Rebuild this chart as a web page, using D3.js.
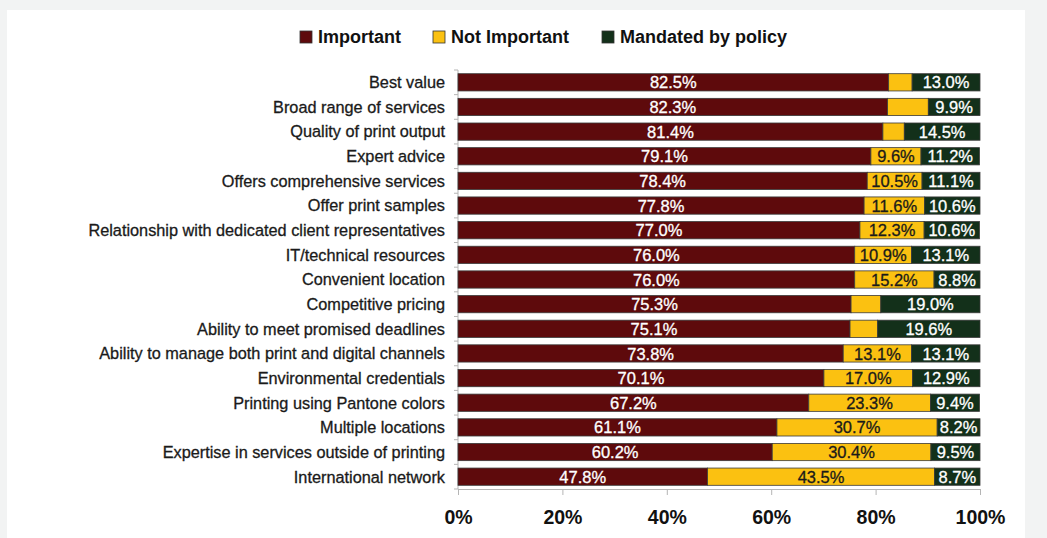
<!DOCTYPE html>
<html><head><meta charset="utf-8">
<script src="https://cdn.jsdelivr.net/npm/d3@7"></script>
<style>body{margin:0;background:#f2f3f3;}svg{display:block;font-family:"Liberation Sans",Arial,sans-serif;}</style>
</head><body><svg id="c" width="1047" height="538"></svg>
<script>
const categories = ["Best value","Broad range of services","Quality of print output","Expert advice","Offers comprehensive services","Offer print samples","Relationship with dedicated client representatives","IT/technical resources","Convenient location","Competitive pricing","Ability to meet promised deadlines","Ability to manage both print and digital channels","Environmental credentials","Printing using Pantone colors","Multiple locations","Expertise in services outside of printing","International network"];
const important    = [82.5,82.3,81.4,79.1,78.4,77.8,77.0,76.0,76.0,75.3,75.1,73.8,70.1,67.2,61.1,60.2,47.8];
const notImportant = [4.5,7.8,4.1,9.6,10.5,11.6,12.3,10.9,15.2,5.7,5.3,13.1,17.0,23.3,30.7,30.4,43.5];
const mandated     = [13.0,9.9,14.5,11.2,11.1,10.6,10.6,13.1,8.8,19.0,19.6,13.1,12.9,9.4,8.2,9.5,8.7];
const seriesNames = ["Important","Not Important","Mandated by policy"];
const xTicks = [0,20,40,60,80,100];

const colors = ["#5e0a0c","#fbc111","#13301a"];
const labelColors = ["#ffffff","#1a1a1a","#ffffff"];

const svg = d3.select("#c");
svg.append("rect").attr("x",7).attr("y",10).attr("width",1018).attr("height",528).attr("fill","#ffffff");

const x = d3.scaleLinear().domain([0,100]).range([458,980]);
const y = d3.scaleBand().domain(categories).range([70,489]).paddingInner(0.3).paddingOuter(0.15);

const rows = categories.map((c,i)=>({cat:c, vals:[important[i],notImportant[i],mandated[i]]}));
const segs = [];
rows.forEach(r=>{let acc=0; r.vals.forEach((v,k)=>{segs.push({cat:r.cat,k,v,x0:acc,x1:Math.min(100,acc+v)}); acc+=v;});});

const yAxisG = svg.append("g");
yAxisG.append("line").attr("x1",x(0)).attr("x2",x(0)).attr("y1",70).attr("y2",489).attr("stroke","#b5b5b5");
d3.range(categories.length+1).forEach(i=>{
  const yy = 70 + (489-70)/categories.length*i;
  yAxisG.append("line").attr("x1",x(0)-4).attr("x2",x(0)).attr("y1",yy).attr("y2",yy).attr("stroke","#b5b5b5");
});
const xAxis = d3.axisBottom(x).tickValues(xTicks).tickFormat(d=>d+"%").tickSize(6).tickSizeOuter(0);
const xg = svg.append("g").attr("transform","translate(0,489)").call(xAxis);
xg.select(".domain").attr("stroke","#b5b5b5");
xg.selectAll(".tick line").attr("stroke","#b5b5b5");
xg.selectAll(".tick text").attr("fill","#111").attr("font-size","19.5px").attr("font-weight","bold").attr("dy","1.35em").attr("font-family","'Liberation Sans',Arial,sans-serif");

svg.append("g").selectAll("rect").data(segs).join("rect")
  .attr("x",d=>x(d.x0)).attr("width",d=>x(d.x1)-x(d.x0))
  .attr("y",d=>y(d.cat)).attr("height",y.bandwidth())
  .attr("fill",d=>colors[d.k]).attr("stroke","#3a3a3a").attr("stroke-width",0.8);

svg.append("g").selectAll("text").data(segs.filter(d=>d.v>=8)).join("text")
  .attr("x",d=>x((d.x0+d.x1)/2)).attr("y",d=>y(d.cat)+y.bandwidth()/2)
  .attr("dy","0.37em").attr("text-anchor","middle")
  .attr("font-size","16.5px").attr("fill",d=>labelColors[d.k])
  .attr("stroke",d=>labelColors[d.k]).attr("stroke-width",0.3)
  .text(d=>d.v.toFixed(1)+"%");

svg.append("g").selectAll("text").data(categories).join("text")
  .attr("x",445).attr("y",d=>y(d)+y.bandwidth()/2).attr("dy","0.36em")
  .attr("text-anchor","end").attr("font-size","16.3px").attr("fill","#1a1a1a")
  .attr("stroke","#1a1a1a").attr("stroke-width",0.3).text(d=>d);

const legX = [300,433,602];
const lg = svg.append("g");
seriesNames.forEach((n,i)=>{
  lg.append("rect").attr("x",legX[i]).attr("y",31).attr("width",12).attr("height",12)
    .attr("fill",colors[i]).attr("stroke","#333").attr("stroke-width",0.8);
  lg.append("text").attr("x",legX[i]+18).attr("y",37).attr("dy","0.36em")
    .attr("font-size","18px").attr("font-weight","bold").attr("fill","#111").text(n);
});
</script></body></html>
